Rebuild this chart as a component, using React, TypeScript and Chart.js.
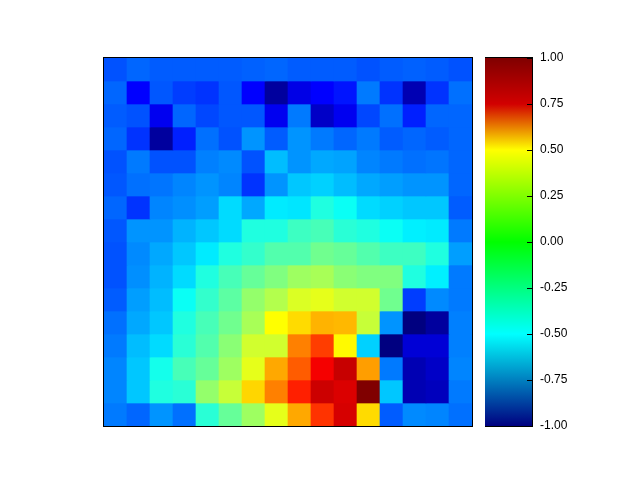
import React, { useEffect, useRef } from 'react';
import Chart from 'chart.js/auto';

const columnLabels = ['1', '2', '3', '4', '5', '6', '7', '8', '9', '10', '11', '12', '13', '14', '15', '16'];
const rowLabels = ['1', '2', '3', '4', '5', '6', '7', '8', '9', '10', '11', '12', '13', '14', '15', '16'];

// cell values, top row first, left column first
const cellValues: number[][] = [
  [-0.59, -0.55, -0.57, -0.57, -0.57, -0.57, -0.56, -0.55, -0.57, -0.57, -0.57, -0.59, -0.57, -0.56, -0.57, -0.59],
  [-0.55, -0.75, -0.58, -0.63, -0.65, -0.58, -0.75, -0.94, -0.80, -0.75, -0.71, -0.51, -0.65, -0.90, -0.65, -0.53],
  [-0.57, -0.59, -0.78, -0.55, -0.61, -0.58, -0.58, -0.78, -0.51, -0.86, -0.78, -0.61, -0.53, -0.69, -0.55, -0.55],
  [-0.55, -0.65, -0.94, -0.69, -0.53, -0.59, -0.46, -0.57, -0.46, -0.51, -0.55, -0.51, -0.57, -0.55, -0.57, -0.55],
  [-0.59, -0.51, -0.59, -0.59, -0.50, -0.48, -0.59, -0.38, -0.46, -0.42, -0.43, -0.49, -0.51, -0.53, -0.52, -0.55],
  [-0.58, -0.53, -0.52, -0.49, -0.46, -0.49, -0.65, -0.46, -0.36, -0.34, -0.38, -0.42, -0.44, -0.46, -0.46, -0.55],
  [-0.55, -0.65, -0.49, -0.47, -0.44, -0.32, -0.42, -0.29, -0.30, -0.19, -0.23, -0.32, -0.34, -0.36, -0.36, -0.57],
  [-0.58, -0.46, -0.46, -0.40, -0.36, -0.32, -0.19, -0.19, -0.13, -0.11, -0.17, -0.19, -0.23, -0.28, -0.29, -0.51],
  [-0.59, -0.48, -0.42, -0.36, -0.29, -0.19, -0.15, -0.09, -0.09, -0.03, -0.05, -0.09, -0.13, -0.13, -0.19, -0.44],
  [-0.59, -0.47, -0.40, -0.32, -0.19, -0.11, -0.05, 0.00, 0.06, 0.08, 0.02, 0.00, 0.00, -0.19, -0.28, -0.51],
  [-0.57, -0.44, -0.38, -0.23, -0.15, -0.07, 0.04, 0.10, 0.18, 0.20, 0.16, 0.16, -0.03, -0.63, -0.48, -0.51],
  [-0.53, -0.42, -0.36, -0.19, -0.11, -0.03, 0.08, 0.25, 0.32, 0.40, 0.39, 0.14, -0.46, -1.00, -0.94, -0.50],
  [-0.51, -0.38, -0.32, -0.17, -0.09, 0.02, 0.16, 0.16, 0.50, 0.63, 0.26, -0.34, -1.00, -0.83, -0.83, -0.50],
  [-0.49, -0.36, -0.21, -0.11, -0.05, 0.06, 0.20, 0.42, 0.57, 0.77, 0.86, 0.44, -0.51, -0.90, -0.86, -0.49],
  [-0.49, -0.36, -0.19, -0.17, 0.04, 0.14, 0.33, 0.50, 0.69, 0.85, 0.82, 1.00, -0.36, -0.90, -0.88, -0.51],
  [-0.51, -0.55, -0.46, -0.53, -0.17, -0.05, 0.06, 0.20, 0.42, 0.65, 0.83, 0.32, -0.57, -0.48, -0.49, -0.53],
];

const colorbarTicks = [-1, -0.75, -0.5, -0.25, 0, 0.25, 0.5, 0.75, 1];

// jet colour map for the cells
const jetStops = [-1, -0.75, -0.25, 0.25, 0.75, 1];
const jetColors = [
  [0, 0, 128],
  [0, 0, 255],
  [0, 255, 255],
  [255, 255, 0],
  [255, 0, 0],
  [128, 0, 0],
];

// colour bar gradient stops
const cbStops = [-1, -0.5, 0, 0.5, 0.75, 1];
const cbColors = ['#000080', '#00ffff', '#00ff00', '#ffff00', '#d20000', '#800000'];

function jet(v: number): string {
  const x = Math.max(-1, Math.min(1, v));
  for (let i = 0; i < jetStops.length - 1; i++) {
    const a = jetStops[i];
    const b = jetStops[i + 1];
    if (x <= b) {
      const t = (x - a) / (b - a);
      const c0 = jetColors[i];
      const c1 = jetColors[i + 1];
      const c = c0.map((c0v, k) => Math.round(c0v + (c1[k] - c0v) * t));
      return `rgb(${c[0]},${c[1]},${c[2]})`;
    }
  }
  const l = jetColors[jetColors.length - 1];
  return `rgb(${l[0]},${l[1]},${l[2]})`;
}

const FONT = "'Liberation Sans', Arial, sans-serif";

const framePlugin = {
  id: 'frame',
  afterDraw(chart: any) {
    const { ctx, chartArea } = chart;
    ctx.save();
    ctx.strokeStyle = '#000';
    ctx.lineWidth = 1;
    ctx.strokeRect(chartArea.left - 0.5, chartArea.top - 0.5, chartArea.right - chartArea.left + 1, chartArea.bottom - chartArea.top + 1);
    ctx.restore();
  },
};

const cbTickPlugin = {
  id: 'cbticks',
  afterDraw(chart: any) {
    const { ctx, chartArea, scales } = chart;
    ctx.save();
    ctx.strokeStyle = '#000';
    ctx.lineWidth = 1;
    colorbarTicks.forEach((v) => {
      const y = Math.round(scales.y.getPixelForValue(v)) + 0.5;
      ctx.beginPath();
      ctx.moveTo(chartArea.right - 5, y);
      ctx.lineTo(chartArea.right, y);
      ctx.stroke();
    });
    ctx.restore();
  },
};

export default function App() {
  const mainRef = useRef<HTMLCanvasElement>(null);
  const cbRef = useRef<HTMLCanvasElement>(null);

  useEffect(() => {
    const nRows = rowLabels.length;
    const datasets = rowLabels.map((label, r) => ({
      label,
      data: cellValues[r].map(() => [nRows - 1 - r, nRows - r]),
      backgroundColor: cellValues[r].map((v) => jet(v)),
      borderWidth: 0,
      barPercentage: 1,
      categoryPercentage: 1,
      grouped: false,
    }));

    const main = new Chart(mainRef.current as HTMLCanvasElement, {
      type: 'bar',
      data: { labels: columnLabels, datasets: datasets as any },
      options: {
        responsive: false,
        animation: false,
        devicePixelRatio: 1,
        layout: { padding: { left: 104, right: 168, top: 58, bottom: 54 } },
        plugins: { legend: { display: false }, tooltip: { enabled: false } },
        scales: {
          x: { display: false, offset: true },
          y: { display: false, min: 0, max: nRows },
        },
      },
      plugins: [framePlugin],
    });

    const cb = new Chart(cbRef.current as HTMLCanvasElement, {
      type: 'bar',
      data: {
        labels: [''],
        datasets: [
          {
            data: [[-1, 1]] as any,
            borderWidth: 0,
            barPercentage: 1,
            categoryPercentage: 1,
            backgroundColor: (context: any) => {
              const chart = context.chart;
              const { ctx, chartArea, scales } = chart;
              if (!chartArea || !scales.y) return '#000';
              const y0 = scales.y.getPixelForValue(-1);
              const y1 = scales.y.getPixelForValue(1);
              const g = ctx.createLinearGradient(0, y0, 0, y1);
              cbStops.forEach((s, i) => g.addColorStop((s + 1) / 2, cbColors[i]));
              return g;
            },
          },
        ],
      },
      options: {
        responsive: false,
        animation: false,
        devicePixelRatio: 1,
        layout: { padding: { left: 0, right: 0, top: 58, bottom: 54 } },
        plugins: { legend: { display: false }, tooltip: { enabled: false } },
        scales: {
          x: { display: false, offset: true },
          y: {
            position: 'right',
            min: -1,
            max: 1,
            afterFit: (scale: any) => {
              scale.width = 108;
            },
            afterBuildTicks: (scale: any) => {
              scale.ticks = colorbarTicks.map((v) => ({ value: v }));
            },
            grid: { display: false, drawTicks: false },
            border: { display: false },
            ticks: {
              padding: 8,
              color: '#000',
              font: { family: FONT, size: 12 },
              callback: (v: any) => Number(v).toFixed(2),
            },
          },
        },
      },
      plugins: [framePlugin, cbTickPlugin],
    });

    return () => {
      main.destroy();
      cb.destroy();
    };
  }, []);

  return (
    <div style={{ position: 'absolute', left: 0, top: 0, width: 640, height: 480, background: '#fff' }}>
      <canvas ref={mainRef} width={640} height={480} style={{ position: 'absolute', left: 0, top: 0 }} />
      <canvas ref={cbRef} width={155} height={480} style={{ position: 'absolute', left: 485, top: 0 }} />
    </div>
  );
}
